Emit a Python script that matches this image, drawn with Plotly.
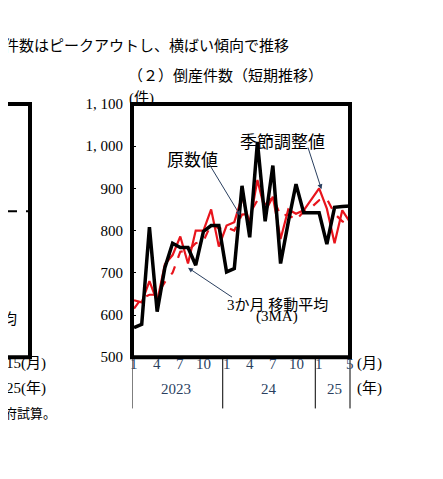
import plotly.graph_objects as go

# Jan 2023 .. May 2025 (29 months)
months = list(range(29))
raw = [570, 578, 808, 608, 712, 770, 760, 760, 718, 798, 812, 812,
       702, 710, 906, 784, 1010, 822, 954, 722, 820, 910, 842, 842,
       842, 768, 855, 857, 858]
sa = [635, 630, 680, 632, 720, 742, 786, 722, 800, 800, 850, 762,
      812, 820, 880, 818, 920, 845, 880, 780, 850, 840, 848, 875,
      900, 852, 770, 848, 820]
ma3 = [615, 640, 648, 648, 678, 700, 750, 752, 770, 775, 815, 805,
       808, 800, 838, 840, 872, 862, 880, 835, 838, 825, 845, 855,
       872, 875, 840, 822, 812]
x_tick_pos = [0, 3, 6, 9, 12, 15, 18, 21, 24, 28]
x_tick_txt = ["1", "4", "7", "10", "1", "4", "7", "10", "1", "5"]
years = [(5.5, "2023"), (17.5, "24"), (26, "25")]
y_ticks = [500, 600, 700, 800, 900, 1000, 1100]

serif = "Liberation Serif, Noto Sans CJK JP"
jp = "Noto Sans CJK JP"

fig = go.Figure()
fig.add_trace(go.Scatter(x=months, y=ma3, mode="lines",
                         line=dict(color="#e8141c", width=2.2, dash="dash")))
fig.add_trace(go.Scatter(x=months, y=sa, mode="lines",
                         line=dict(color="#e8141c", width=2.2)))
fig.add_trace(go.Scatter(x=months, y=raw, mode="lines",
                         line=dict(color="black", width=3.5)))

W, H = 443, 479
x0, x1 = 124 / W, 342 / W
yb, yt = 1 - 353 / H, 1 - 91 / H

fig.update_layout(
    width=W, height=H, margin=dict(l=0, r=0, t=0, b=0),
    plot_bgcolor="white", paper_bgcolor="white", showlegend=False,
    xaxis=dict(domain=[x0, x1], range=[-0.26, 28], showgrid=False,
               showticklabels=False, zeroline=False),
    yaxis=dict(domain=[yb, yt], range=[500, 1100], showgrid=False,
               zeroline=False, tickvals=y_ticks,
               ticktext=[f"{v:,}".replace(",", ", ") for v in y_ticks],
               ticks="inside", ticklen=4, tickcolor="black",
               tickfont=dict(family=serif, size=15, color="black"),
               ticklabelstandoff=8),
)

# thick frame
fig.add_shape(type="rect", xref="x domain", yref="y domain", x0=0, x1=1, y0=0, y1=1,
              line=dict(color="black", width=4))
# left partial panel frame
fig.add_shape(type="rect", xref="paper", yref="paper", x0=-0.2, x1=22 / W, y0=yb, y1=yt,
              line=dict(color="black", width=4))
fig.add_shape(type="line", xref="paper", yref="paper", x0=0, x1=20 / W,
              y0=1 - 202 / H, y1=1 - 202 / H, line=dict(color="black", width=2, dash="dash"))

# year separators below the axis
for xv in [-0.26, 11.5, 23.5]:
    fig.add_shape(type="line", xref="x", yref="paper", x0=xv, x1=xv,
                  y0=yb, y1=1 - 406 / H, line=dict(color="black", width=1))
fig.add_shape(type="line", xref="paper", yref="paper", x0=x1, x1=x1,
              y0=yb, y1=1 - 406 / H, line=dict(color="black", width=1))

for p, t in zip(x_tick_pos, x_tick_txt):
    fig.add_annotation(x=p, y=1 - 370 / H, xref="x", yref="paper", text=t,
                       showarrow=False, font=dict(family=serif, size=15))
for p, t in years:
    fig.add_annotation(x=p, y=1 - 396 / H, xref="x", yref="paper", text=t,
                       showarrow=False, font=dict(family=serif, size=15))

texts = [
    (-6, 17, "件数はピークアウトし、横ばい傾向で推移", 15, "left", jp),
    (217, 48, "（２）倒産件数（短期推移）", 15, "center", jp),
    (133, 74, "(件)", 15, "center", serif),
    (361, 370, "(月)", 15, "center", serif),
    (361, 396, "(年)", 15, "center", serif),
    (-4, 370, "15(月)", 15, "left", serif),
    (-4, 396, "25(年)", 15, "left", serif),
    (-8, 312, "均", 15, "left", jp),
    (-6, 422, "府試算。", 13, "left", jp),
    (269, 299, "3か月 移動平均", 15, "center", serif),
    (269, 322, "(3MA)", 15, "center", serif),
    (184, 138, "原数値", 17, "center", serif),
    (274, 119, "季節調整値", 17, "center", serif),
]
for xp, yp, t, s, a, f in texts:
    fig.add_annotation(x=xp / W, y=1 - yp / H, xref="paper", yref="paper", text=t,
                       showarrow=False, xanchor=a, font=dict(family=f, size=s, color="black"))

# arrows (tail, head) in data coords
arrows = [((9.5, 965), (13.8, 835)), ((22.5, 1000), (24.3, 898)), ((12.9, 640), (7, 712))]
for (tx, ty), (hx, hy) in arrows:
    fig.add_annotation(x=hx, y=hy, ax=tx, ay=ty, axref="x", ayref="y", xref="x", yref="y",
                       text="", showarrow=True, arrowhead=2, arrowsize=1, arrowwidth=1)

fig.write_html("out.html")
